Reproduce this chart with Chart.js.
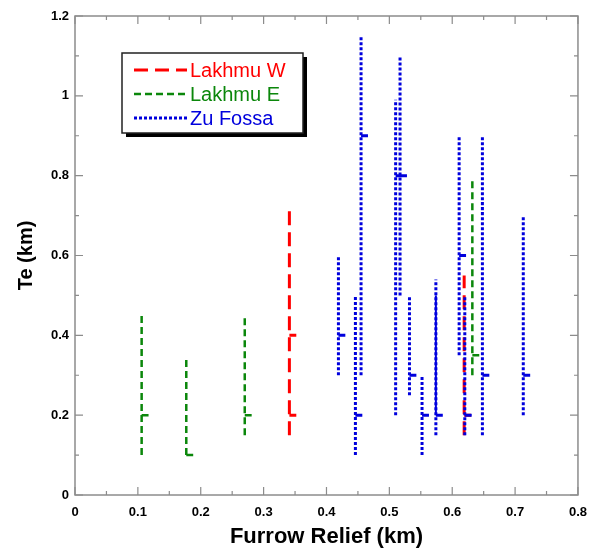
<!DOCTYPE html>
<html>
<head>
<meta charset="utf-8">
<script src="https://cdn.jsdelivr.net/npm/chart.js@4"></script>
<style>
  html, body { margin: 0; padding: 0; background: #fff; }
  #wrap { width: 597px; height: 550px; }
</style>
</head>
<body>
<div id="wrap"><canvas id="te"></canvas></div>
<script>
// values (km)
const xTicks = [0, 0.1, 0.2, 0.3, 0.4, 0.5, 0.6, 0.7, 0.8];
const yTicks = [0, 0.2, 0.4, 0.6, 0.8, 1, 1.2];

const lakhmuWRelief = [0.341, 0.341, 0.619];
const lakhmuWLow    = [0.15, 0.15, 0.15];
const lakhmuWHigh   = [0.72, 0.72, 0.55];
const lakhmuWBest   = [0.40, 0.20, 0.20];

const lakhmuERelief = [0.106, 0.177, 0.270, 0.632];
const lakhmuELow    = [0.10, 0.10, 0.15, 0.30];
const lakhmuEHigh   = [0.45, 0.34, 0.445, 0.79];
const lakhmuEBest   = [0.20, 0.10, 0.20, 0.35];

const zuRelief = [0.419, 0.446, 0.455, 0.510, 0.517, 0.532, 0.552, 0.574, 0.611, 0.620, 0.648, 0.713];
const zuLow    = [0.30, 0.10, 0.30, 0.20, 0.50, 0.25, 0.10, 0.15, 0.35, 0.15, 0.15, 0.20];
const zuHigh   = [0.60, 0.50, 1.15, 0.99, 1.10, 0.50, 0.30, 0.54, 0.90, 0.50, 0.90, 0.70];
const zuBest   = [0.40, 0.20, 0.90, 0.80, 0.80, 0.30, 0.20, 0.20, 0.60, 0.20, 0.30, 0.30];
// the one bar that prints solid between these limits
const zuSolidRelief = [0.574];
const zuSolidLow    = [0.20];
const zuSolidHigh   = [0.50];

const tickLen = 0.011; // little marker pointing right at best value

const RED = '#ff0000', GREEN = '#0b870b', BLUE = '#0000dd';

// vertical ranges as broken line, one segment per bar
function ranges(xs, lo, hi) {
    const pts = [];
    xs.forEach((x, i) => {
        pts.push({x: x, y: lo[i]}, {x: x, y: hi[i]}, {x: x, y: null});
    });
    return pts;
}
function marks(xs, best) {
    const pts = [];
    xs.forEach((x, i) => {
        pts.push({x: x, y: best[i]}, {x: x + tickLen, y: best[i]}, {x: x, y: null});
    });
    return pts;
}

function lineSet(label, data, color, width, dash, order) {
    return {
        label: label, data: data, showLine: true, spanGaps: false,
        borderColor: color, backgroundColor: color, borderWidth: width,
        borderDash: dash, borderCapStyle: 'butt', pointRadius: 0,
        order: order
    };
}

const datasets = [
    lineSet('Zu Fossa', ranges(zuRelief, zuLow, zuHigh), BLUE, 3, [3, 2], 0),
    lineSet('', marks(zuRelief, zuBest), BLUE, 3, [], 0),
    lineSet('', ranges(zuSolidRelief, zuSolidLow, zuSolidHigh), BLUE, 2, [], 0),
    lineSet('Lakhmu E', ranges(lakhmuERelief, lakhmuELow, lakhmuEHigh), GREEN, 2.5, [7, 4], 1),
    lineSet('', marks(lakhmuERelief, lakhmuEBest), GREEN, 2.5, [], 1),
    lineSet('Lakhmu W', ranges(lakhmuWRelief, lakhmuWLow, lakhmuWHigh), RED, 3, [14, 7], 2),
    lineSet('', marks(lakhmuWRelief, lakhmuWBest), RED, 3, [], 2)
];

// frame with inward ticks on all four sides
const framePlugin = {
    id: 'frame',
    afterDraw(chart) {
        const {ctx, chartArea: a, scales: {x, y}} = chart;
        ctx.save();
        ctx.strokeStyle = '#8c8c8c';
        ctx.lineWidth = 1.5;
        ctx.strokeRect(a.left, a.top, a.right - a.left, a.bottom - a.top);
        ctx.lineWidth = 1.2;
        ctx.beginPath();
        for (let v = 0; v <= 0.8001; v += 0.05) {
            const px = x.getPixelForValue(v);
            const major = Math.abs(v * 10 - Math.round(v * 10)) < 1e-6;
            const len = major ? 8 : 4;
            ctx.moveTo(px, a.bottom); ctx.lineTo(px, a.bottom - len);
            ctx.moveTo(px, a.top); ctx.lineTo(px, a.top + len);
        }
        for (let v = 0; v <= 1.2001; v += 0.1) {
            const py = y.getPixelForValue(v);
            const major = Math.abs(v * 5 - Math.round(v * 5)) < 1e-6;
            const len = major ? 8 : 4;
            ctx.moveTo(a.left, py); ctx.lineTo(a.left + len, py);
            ctx.moveTo(a.right, py); ctx.lineTo(a.right - len, py);
        }
        ctx.stroke();
        ctx.restore();
    }
};

// boxed legend inside the plot, with a drop shadow
const legendBox = {
    id: 'legendBox',
    afterDraw(chart) {
        const ctx = chart.ctx;
        const bx = 122, by = 53, bw = 181, bh = 80;
        ctx.save();
        ctx.fillStyle = '#000';
        ctx.fillRect(bx + 4, by + 4, bw, bh);
        ctx.fillStyle = '#fff';
        ctx.fillRect(bx, by, bw, bh);
        ctx.strokeStyle = '#222';
        ctx.lineWidth = 1.5;
        ctx.strokeRect(bx, by, bw, bh);
        const items = chart.data.datasets.filter(d => d.label).reverse();
        items.forEach((d, i) => {
            const ly = 70 + i * 24;
            ctx.strokeStyle = d.borderColor;
            ctx.lineWidth = d.borderWidth;
            ctx.setLineDash(d.borderDash);
            ctx.beginPath();
            ctx.moveTo(134, ly); ctx.lineTo(187, ly);
            ctx.stroke();
            ctx.setLineDash([]);
            ctx.fillStyle = d.borderColor;
            ctx.font = '20px "Liberation Sans", Arial, sans-serif';
            ctx.textBaseline = 'middle';
            ctx.fillText(d.label, 190, ly + 1);
        });
        ctx.restore();
    }
};

function fmt(v) { return String(Number(v.toFixed(1))); }

const ctx = document.getElementById('te').getContext('2d');
new Chart(ctx, {
    type: 'scatter',
    data: { datasets: datasets },
    options: {
        responsive: true,
        maintainAspectRatio: false,
        animation: false,
        layout: { padding: { top: 16, right: 19, left: 0, bottom: 0 } },
        plugins: { legend: { display: false }, tooltip: { enabled: false } },
        scales: {
            x: {
                type: 'linear', min: 0, max: 0.8,
                afterBuildTicks: s => { s.ticks = xTicks.map(v => ({value: v})); },
                afterFit: s => { s.height = 55; },
                grid: { display: false, drawTicks: false },
                border: { display: false },
                ticks: {
                    callback: fmt, padding: 10, color: '#000', maxRotation: 0,
                    font: { family: '"Liberation Sans", Arial, sans-serif', size: 13, weight: 'bold' }
                },
                title: {
                    display: true, text: 'Furrow Relief (km)', color: '#000',
                    padding: { top: 0, bottom: 0 },
                    font: { family: '"Liberation Sans", Arial, sans-serif', size: 22, weight: 'bold' }
                }
            },
            y: {
                type: 'linear', min: 0, max: 1.2,
                afterBuildTicks: s => { s.ticks = yTicks.map(v => ({value: v})); },
                afterFit: s => { s.width = 75; },
                grid: { display: false, drawTicks: false },
                border: { display: false },
                ticks: {
                    callback: fmt, padding: 6, color: '#000',
                    font: { family: '"Liberation Sans", Arial, sans-serif', size: 13, weight: 'bold' }
                },
                title: {
                    display: true, text: 'Te (km)', color: '#000',
                    padding: { top: 14, bottom: 0 },
                    font: { family: '"Liberation Sans", Arial, sans-serif', size: 20, weight: 'bold' }
                }
            }
        }
    },
    plugins: [framePlugin, legendBox]
});
</script>
</body>
</html>
